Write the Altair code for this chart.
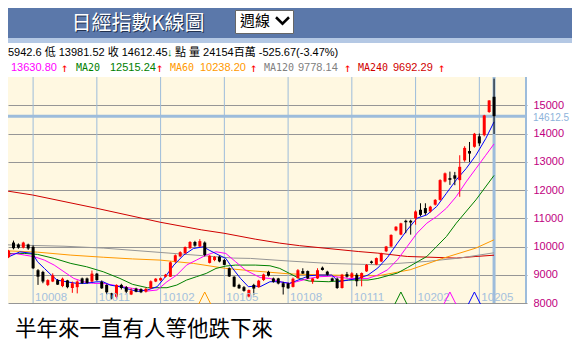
import altair as alt
import pandas as pd

# ---------------- data (weekly candles, index 0 = oldest, 100 = latest week) ----------------
WEEKS = list(range(101))
OPEN = [9420, 9620, 10140, 10070, 9960, 10070, 9990, 9160, 9100, 8640,
        8760, 8810, 8600, 8800, 8530, 8560, 8870, 8870, 8760, 9040,
        8750, 8640, 8340, 8220, 8640, 8560, 8300, 8510, 8490, 8400,
        8520, 8760, 8800, 8930, 8930, 9480, 9650, 9760, 9940, 10160,
        10000, 10140, 9420, 9520, 9640, 9520, 9230, 8930, 8640, 8560,
        8230, 8640, 8560, 8810, 9100, 8870, 8870, 8700, 8690, 8570,
        8880, 9130, 9130, 8760, 8870, 9250, 9110, 8870, 8860, 8530,
        9020, 8900, 9000, 8880, 9120, 9470, 9360, 9470, 9830, 10000,
        10570, 10420, 10910, 10910, 11000, 11300, 11360, 11240, 11480, 11650,
        12300, 12420, 12520, 12350, 13050, 13380, 13530, 13900, 13940, 14760,
        15300]
HIGH = [9700, 9880, 10210, 10110, 10170, 10100, 10040, 9200, 9140, 8840,
        9050, 8850, 8900, 8820, 8760, 8800, 8900, 8900, 9150, 9060,
        8800, 8660, 8360, 8660, 8680, 8600, 8520, 8540, 8520, 8540,
        8800, 8880, 8900, 9030, 9470, 9720, 9830, 10000, 10190, 10200,
        10260, 10180, 9690, 9660, 9680, 9560, 9260, 8950, 8680, 8600,
        8480, 8680, 8820, 9040, 9140, 8900, 8890, 8750, 8720, 8900,
        9200, 9230, 9150, 8880, 9230, 9290, 9140, 8900, 8900, 9030,
        9100, 9090, 9060, 9080, 9380, 9500, 9610, 9780, 10020, 10430,
        10720, 10840, 10950, 10950, 11280, 11530, 11530, 11440, 11680, 12380,
        12620, 12650, 12640, 13230, 13550, 13700, 14020, 14000, 14660, 15180,
        15942.6]
LOW = [9380, 9590, 9900, 9920, 9930, 9880, 9200, 8640, 8700, 8600,
       8740, 8640, 8560, 8520, 8360, 8340, 8680, 8680, 8740, 8790,
       8500, 8300, 8130, 8160, 8480, 8340, 8280, 8380, 8350, 8370,
       8500, 8740, 8780, 8900, 8920, 9420, 9620, 9740, 9920, 9990,
       9980, 9650, 9400, 9480, 9440, 9340, 8920, 8560, 8500, 8400,
       8200, 8280, 8540, 8780, 8940, 8720, 8660, 8300, 8500, 8550,
       8860, 9030, 8850, 8680, 8850, 9150, 8970, 8760, 8500, 8510,
       8900, 8880, 8590, 8590, 9100, 9390, 9340, 9450, 9800, 9980,
       10540, 10400, 10470, 10420, 10770, 11070, 11120, 11200, 11450, 11620,
       12270, 12180, 12170, 11760, 13000, 12990, 13500, 13560, 13900, 14730,
       13981.52]
CLOSE = [9680, 9850, 9940, 9960, 10140, 9930, 9230, 8930, 8760, 8810,
         8980, 8650, 8860, 8560, 8700, 8760, 8700, 8710, 9040, 8810,
         8520, 8380, 8160, 8640, 8530, 8400, 8440, 8400, 8380, 8500,
         8770, 8860, 8880, 9000, 9440, 9690, 9800, 9980, 10160, 10030,
         10190, 9700, 9670, 9630, 9470, 9350, 8940, 8580, 8520, 8430,
         8460, 8510, 8790, 9010, 8970, 8750, 8690, 8560, 8520, 8860,
         9160, 9040, 8870, 8870, 9160, 9170, 9000, 8780, 8530, 9000,
         8930, 9050, 8770, 9060, 9350, 9420, 9590, 9760, 10000, 10410,
         10700, 10820, 10860, 10850, 11240, 11120, 11180, 11410, 11650, 12350,
         12590, 12360, 12400, 12820, 13490, 13290, 13990, 13650, 14640, 15170,
         14612.45]

# moving averages (week index, value)
MA5_W = [0.3, 3.3, 5.9, 6.9, 8.3, 9.7, 10.9, 12.9, 14.9, 16.9, 18.9, 20.3, 21.7, 23.7, 25.7,
         27.3, 29.3, 31.3, 32.7, 34.7, 36.7, 38.7, 40.7, 41.9, 43.9, 45.3, 46.7, 48.3, 49.9,
         51.3, 52.3, 54.3, 56.3, 58.3, 60.9, 62.3, 64.3, 66.9, 68.3, 70.3, 72.3, 74.3, 76.3,
         78.3, 80.3, 82.3, 84.3, 86.3, 88.3, 90.3, 92.3, 94.3, 96.3, 98.3, 100]
MA5_V = [9580, 9810, 9755, 9460, 9225, 8990, 8810, 8750, 8695, 8695, 8750, 8750, 8635, 8575, 8480,
         8410, 8460, 8576, 8870, 9342, 9695, 9930, 9990, 9870, 9695, 9578, 9224, 8870, 8576,
         8600, 8577, 8753, 8753, 8694, 8870, 8965, 8990, 8990, 8753, 8812, 8870, 8990, 9240,
         9620, 10120, 10590, 11003, 11121, 11415, 11886, 12358, 12758, 13229, 13818, 14412]
MA10_W = [0.3, 2.3, 4.3, 6.3, 8.3, 10.3, 12.3, 14.3, 16.3, 18.3, 20.3, 22.3, 24.3, 26.3,
          29.3, 31.3, 33.3, 35.3, 37.3, 39.3, 41.3, 43.3, 45.3, 47.3, 49.3, 51.3, 52.3,
          54.3, 56.3, 58.3, 59.7, 62.3, 64.3, 66.9, 70.3, 72.3, 74.3, 76.3,
          78.3, 80.3, 82.3, 84.3, 86.3, 88.3, 90.3, 92.3, 94.3, 96.3, 98.3, 100]
MA10_V = [9695, 9754, 9695, 9637, 9519, 9342, 9106, 8870, 8753, 8694, 8694, 8635, 8576, 8517,
          8423, 8460, 8753, 8990, 9342, 9519, 9695, 9813, 9754, 9460, 9165, 8990, 8900,
          8870, 8753, 8694, 8753, 8870, 8930, 8950, 8870, 8870, 8870, 8990,
          9177, 9530, 10002, 10473, 10826, 11062, 11357, 11769, 12286, 12758, 13229, 13630.8]
MA20_W = [0.3, 4.3, 6.9, 10.3, 13.7, 16.9, 20.3, 23.7, 26.3, 29.3, 33.3, 35.3, 37.3, 39.3,
          41.3, 43.3, 45.3, 47.3, 51.3, 54.3, 56.3, 58.3, 60.3, 62.3, 66.3, 70.3, 74.3, 76.3,
          80.3, 82.3, 84.3, 86.3, 88.3, 90.3, 92.3, 96.3, 100]
MA20_V = [9754, 9754, 9720, 9578, 9401, 9283, 9106, 8870, 8659, 8541, 8541, 8635, 8812, 8930,
          9047, 9224, 9307, 9342, 9342, 9318, 9224, 9047, 8870, 8776, 8753, 8812, 8812, 8870,
          9060, 9250, 9450, 9648, 10002, 10355, 10826, 11650, 12515.24]
MA60_W = [0.3, 6.9, 13.7, 20.3, 26.3, 31.9, 38.7, 45.3, 51.3, 58.3, 66.3, 76.3, 82.9, 89.7, 96.3, 100]
MA60_V = [9850, 9800, 9695, 9620, 9560, 9519, 9401, 9224, 9130, 9030, 8990, 8960, 9177, 9590, 9944, 10238.2]
MA120_W = [0.3, 12.3, 20.3, 33.7, 46.9, 50.3, 58.3, 66.3, 76.3, 86.3, 92.9, 100]
MA120_V = [10060, 10010, 9944, 9767, 9590, 9578, 9484, 9401, 9354, 9472, 9590, 9778.14]
MA240_W = [0.3, 5.9, 18.9, 31.9, 40.3, 44.9, 51.3, 56.3, 60.3, 72.3, 76.3, 82.3, 92.3, 96.3, 100]
MA240_V = [11975, 11823, 11354, 10860, 10590, 10470, 10260, 10120, 10030, 9823, 9765, 9647, 9590, 9647, 9692.29]

MONTH_WEEKS = [6, 19, 32, 45, 58, 71, 84, 97]
MONTH_LABELS = ["10008", "10011", "10102", "10105", "10108", "10111", "10202", "10205"]
SIGNAL_WEEKS = [41, 81, 91, 96]
SIGNAL_SERIES = ["MA60", "MA20", "MA10", "MA5"]
Y_TICKS = [8000, 9000, 10000, 11000, 12000, 13000, 14000, 15000]
LAST_WEEK = 100
LAST_CLOSE = 14612.45

TITLE = "日經指數K線圖"
PERIOD = "週線"
CAPTION = "半年來一直有人等他跌下來"
INFO1 = ["5942.6 低 13981.52 收 14612.45", "↓", "點 量 24154百萬 -525.67(-3.47%)"]
INFO2 = [("13630.80", "MA10"), ("↑", "UP"),
         ("MA20", "MA20"), ("12515.24", "MA20"), ("↑", "UP"),
         ("MA60", "MA60"), ("10238.20", "MA60"), ("↑", "UP"),
         ("MA120", "MA120T"), ("9778.14", "MA120T"), ("↑", "UP"),
         ("MA240", "MA240"), ("9692.29", "MA240"), ("↑", "UP")]

# ---------------- styling / layout ----------------
W, H = 519, 226
XS = alt.Scale(domain=[1.9, 105.7], nice=False, zero=False)
YS = alt.Scale(domain=[8000, 16000], nice=False, zero=False)
MA_COLORS = {"MA5": "#0000FF", "MA10": "#FF00FF", "MA20": "#008000",
             "MA60": "#FF9900", "MA120": "#969696", "MA240": "#D00000"}
TEXT_COLORS = dict(MA_COLORS, UP="#FF0000", MA120T="#808080")
LIGHT_BLUE = "#9DBCDB"
MONO = "DejaVu Sans Mono"
SANS = "Liberation Sans, Noto Sans CJK TC"
CJK = "Noto Sans CJK TC"
NUMF = "Liberation Sans"

Y_AXIS = alt.Axis(orient="right", values=Y_TICKS, grid=True, gridColor="#969696", gridWidth=1,
                  gridOpacity=1, domain=False, ticks=False, title=None, labelColor="#C00080",
                  labelFont=NUMF, labelFontSize=11, labelPadding=6, labelFlush=False,
                  labelOverlap=False, format="d")

candles = pd.DataFrame({"week": WEEKS, "open": OPEN, "high": HIGH, "low": LOW, "close": CLOSE})
candles["dir"] = ["up" if c >= o else "down" for o, c in zip(OPEN, CLOSE)]
dir_color = alt.Color("dir:N", scale=alt.Scale(domain=["up", "down"], range=["#FF0000", "#000000"]), legend=None)

one = pd.DataFrame({"k": [0]})


def deco_text(text, x, y, color="#000000", size=11, font=SANS, align="left", weight="normal"):
    return alt.Chart(one).mark_text(text=text, align=align, baseline="middle", font=font,
                                    fontSize=size, color=color, fontWeight=weight).encode(
        x=alt.value(x), y=alt.value(y))


def deco_rect(x, x2, y, y2, fill, stroke=None):
    kw = {"fill": fill}
    if stroke:
        kw.update(stroke=stroke, strokeWidth=1)
    return alt.Chart(one).mark_rect(**kw).encode(
        x=alt.value(x), x2=alt.value(x2), y=alt.value(y), y2=alt.value(y2))


layers = []

# header band
layers.append(deco_rect(-8, 564, -69, -39, "#5B78AA"))
layers.append(deco_rect(-8, 564, -39, -34, "#B4C8E4"))
layers.append(deco_text(TITLE, 131, -52, "#22314F", 20, CJK, "center"))
layers.append(deco_text(TITLE, 130, -53, "#FFFFFF", 20, CJK, "center"))
layers.append(deco_rect(227.5, 285.5, -66.5, -43.5, "#FFFFFF", "#666666"))
layers.append(deco_text(PERIOD, 232, -56, "#000000", 15, CJK))
layers.append(alt.Chart(one).mark_point(shape="M-1,-0.5L0,0.5L1,-0.5", size=169, filled=False,
                                        strokeWidth=2.5, color="#000000", opacity=1).encode(
    x=alt.value(274.5), y=alt.value(-56.5)))

# info line 1 (page x positions minus the 8px page margin)
for txt, px, col in [(INFO1[0], 8, "#000000"), (INFO1[1], 167, "#008000"), (INFO1[2], 175, "#000000")]:
    layers.append(deco_text(txt, px - 8, -24, col, 11))
# info line 2
X2 = [11, 61, 76, 110, 156, 170, 200, 250, 264, 298, 344, 358, 393, 438]
for (txt, key), px in zip(INFO2, X2):
    if txt == "↑":
        layers.append(deco_text(txt, px - 8, -9, TEXT_COLORS[key], 12, MONO))
    elif txt.startswith("MA"):
        layers.append(deco_text(txt, px - 8, -9, TEXT_COLORS[key], 10, MONO))
    else:
        layers.append(deco_text(txt, px - 8, -9, TEXT_COLORS[key], 11, SANS))

# month grid lines
months = pd.DataFrame({"week": MONTH_WEEKS, "label": MONTH_LABELS})
layers.append(alt.Chart(months).mark_rule(color=LIGHT_BLUE, strokeWidth=1, clip=True).encode(
    x=alt.X("week:Q", scale=XS, axis=None), y=alt.value(0), y2=alt.value(H)))

# y axis + horizontal grid (invisible anchor layer)
ticks = pd.DataFrame({"v": Y_TICKS})
layers.append(alt.Chart(ticks).mark_rule(opacity=0).encode(
    y=alt.Y("v:Q", scale=YS, axis=Y_AXIS)))

# last close highlight lines
last = pd.DataFrame({"week": [LAST_WEEK], "v": [LAST_CLOSE], "t": ["14612.5"]})
layers.append(alt.Chart(last).mark_rule(color=LIGHT_BLUE, strokeWidth=3).encode(
    y=alt.Y("v:Q", scale=YS, axis=Y_AXIS), x=alt.value(0), x2=alt.value(W - 1)))
layers.append(alt.Chart(last).mark_rule(color=LIGHT_BLUE, strokeWidth=3, clip=True).encode(
    x=alt.X("week:Q", scale=XS, axis=None), y=alt.value(0), y2=alt.value(H)))
layers.append(alt.Chart(last).mark_text(align="left", baseline="middle", font=NUMF, fontSize=10,
                                        dy=1.5, color="#8DB3DB").encode(
    y=alt.Y("v:Q", scale=YS, axis=Y_AXIS), x=alt.value(525), text="t:N"))
# right border
layers.append(alt.Chart(one).mark_rule(color=LIGHT_BLUE, strokeWidth=2).encode(
    x=alt.value(518), y=alt.value(0), y2=alt.value(H)))

# moving averages
for name, ws, vs in [("MA240", MA240_W, MA240_V), ("MA120", MA120_W, MA120_V), ("MA60", MA60_W, MA60_V),
                     ("MA20", MA20_W, MA20_V), ("MA10", MA10_W, MA10_V), ("MA5", MA5_W, MA5_V)]:
    df = pd.DataFrame({"week": ws, "v": vs})
    layers.append(alt.Chart(df).mark_line(color=MA_COLORS[name], strokeWidth=1, clip=True).encode(
        x=alt.X("week:Q", scale=XS, axis=None), y=alt.Y("v:Q", scale=YS, axis=Y_AXIS)))

# candles
base = alt.Chart(candles)
layers.append(base.mark_rule(strokeWidth=1, clip=True).encode(
    x=alt.X("week:Q", scale=XS, axis=None), y=alt.Y("low:Q", scale=YS, axis=Y_AXIS), y2="high:Q",
    color=dir_color))
layers.append(base.mark_bar(size=3, clip=True).encode(
    x=alt.X("week:Q", scale=XS, axis=None), y=alt.Y("open:Q", scale=YS, axis=Y_AXIS), y2="close:Q",
    color=dir_color))

# month labels
layers.append(alt.Chart(months).mark_text(align="left", baseline="middle", dx=2, font=NUMF, fontSize=11.5,
                                          color="#A4C0DE", clip=True).encode(
    x=alt.X("week:Q", scale=XS, axis=None), y=alt.value(221), text="label:N"))

# crossover signal chevrons
sig = pd.DataFrame({"week": SIGNAL_WEEKS, "s": SIGNAL_SERIES})
layers.append(alt.Chart(sig).mark_point(shape="M-1,1L0,-1L1,1", size=144, filled=False, strokeWidth=1,
                                        opacity=1).encode(
    x=alt.X("week:Q", scale=XS, axis=None), y=alt.value(221),
    color=alt.Color("s:N", scale=alt.Scale(domain=list(MA_COLORS.keys()), range=list(MA_COLORS.values())),
                    legend=None)))

# caption
layers.append(deco_text(CAPTION, 7, 253, "#000000", 21.5, CJK))

chart = alt.layer(*layers).resolve_scale(color="independent").properties(
    width=W, height=H,
    padding={"left": 0, "top": 69, "right": 45, "bottom": 39},
    autosize=alt.AutoSizeParams(type="none"),
    background="#FFFFFF",
).configure_view(fill="#FFF8E1", stroke=None)

chart.save("out.html", embed_options={"renderer": "svg", "actions": False})
